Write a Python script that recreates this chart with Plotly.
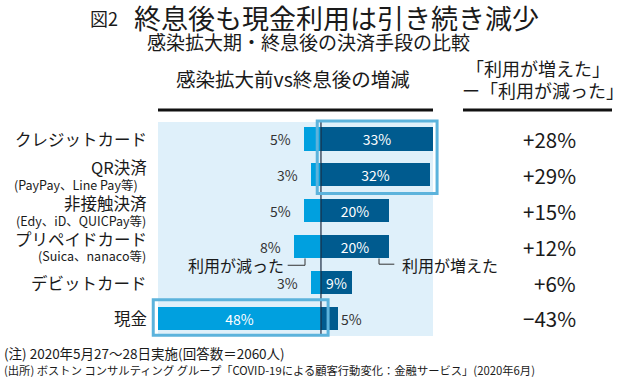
import plotly.graph_objects as go

# ---- data ----
categories = ["クレジットカード", "QR決済", "非接触決済", "プリペイドカード", "デビットカード", "現金"]
sub_labels = ["", "(PayPay、Line Pay等)", "(Edy、iD、QUICPay等)", "(Suica、nanaco等)", "", ""]
decreased = [5, 3, 5, 8, 3, 48]     # 利用が減った (%)
increased = [33, 32, 20, 20, 9, 5]  # 利用が増えた (%)

net = [i - d for i, d in zip(increased, decreased)]
net_labels = [("+" if v > 0 else "−") + f"{abs(v)}%" for v in net]

FONT = "Noto Sans CJK JP"
W, H = 620, 379
L, R, T, B = 158, 187, 122, 43
XMIN, XMAX = -48, 33
YTOP, YBOT = -0.47, 5.49

LIGHT = "#00a0df"
DARK = "#005b8f"
PANEL = "#dff0fa"
BOX = "#5cb3dc"
TXT = "#1a1a1a"


def px_x(px):
    return (px - L) / (W - L - R)


def px_y(py):
    return 1 - (py - T) / (H - T - B)


def dx(x):
    return (x - XMIN) / (XMAX - XMIN)


def dy(y):
    return 1 - (y - YTOP) / (YBOT - YTOP)


ypos = list(range(len(categories)))

fig = go.Figure()
fig.add_trace(go.Bar(
    y=ypos, x=[-v for v in decreased], orientation="h",
    marker=dict(color=LIGHT, line=dict(width=0)), width=0.65,
    text=[f"{v}%" if v >= 20 else "" for v in decreased],
    textposition="inside", insidetextanchor="middle", textangle=0, constraintext="none",
    insidetextfont=dict(family=FONT, size=14, color="white"),
    hoverinfo="skip", showlegend=False,
))
fig.add_trace(go.Bar(
    y=ypos, x=increased, orientation="h",
    marker=dict(color=DARK, line=dict(width=0)), width=0.65,
    text=[f"{v}%" for v in increased],
    textposition=["inside" if v >= 8 else "outside" for v in increased],
    insidetextanchor="middle", textangle=0, constraintext="none",
    insidetextfont=dict(family=FONT, size=14, color="white"),
    outsidetextfont=dict(family=FONT, size=14, color="#333333"),
    cliponaxis=False,
    hoverinfo="skip", showlegend=False,
))

ann = []
# decrease labels outside
for i, v in enumerate(decreased):
    if v < 20:
        ann.append(dict(x=-v, y=i, xref="x", yref="y", text=f"{v}%", showarrow=False,
                        xanchor="right", xshift=-11,
                        font=dict(family=FONT, size=14, color="#333333")))
# category labels
for i, (c, s) in enumerate(zip(categories, sub_labels)):
    if s:
        ann.append(dict(x=px_x(149), y=i - 0.21, xref="paper", yref="y", text=c, showarrow=False,
                        xanchor="right", yanchor="middle", font=dict(family=FONT, size=16.5, color=TXT)))
        sx = 140 if i == 1 else 148
        ann.append(dict(x=px_x(sx), y=i + 0.26, xref="paper", yref="y", text=s, showarrow=False,
                        xanchor="right", yanchor="middle", font=dict(family=FONT, size=12.5, color=TXT)))
    else:
        ann.append(dict(x=px_x(149), y=i, xref="paper", yref="y", text=c, showarrow=False,
                        xanchor="right", yanchor="middle", font=dict(family=FONT, size=16.5, color=TXT)))
# net values
for i, t in enumerate(net_labels):
    ann.append(dict(x=px_x(578), y=i, xref="paper", yref="y", text=t, showarrow=False,
                    xanchor="right", yanchor="middle", font=dict(family=FONT, size=20.5, color=TXT)))
# titles
ann += [
    dict(x=px_x(88), y=px_y(18), xref="paper", yref="paper", text="図2", showarrow=False,
         xanchor="left", yanchor="middle", font=dict(family=FONT, size=18, color=TXT)),
    dict(x=px_x(336), y=px_y(17), xref="paper", yref="paper", text="終息後も現金利用は引き続き減少",
         showarrow=False, xanchor="center", yanchor="middle", font=dict(family=FONT, size=27, color=TXT)),
    dict(x=px_x(308), y=px_y(41), xref="paper", yref="paper", text="感染拡大期・終息後の決済手段の比較",
         showarrow=False, xanchor="center", yanchor="middle", font=dict(family=FONT, size=19, color=TXT)),
    dict(x=px_x(293), y=px_y(78), xref="paper", yref="paper", text="感染拡大前vs終息後の増減",
         showarrow=False, xanchor="center", yanchor="middle", font=dict(family=FONT, size=19.5, color=TXT)),
    dict(x=px_x(538), y=px_y(68), xref="paper", yref="paper", text="「利用が増えた」",
         showarrow=False, xanchor="center", yanchor="middle", font=dict(family=FONT, size=18, color=TXT)),
    dict(x=px_x(543), y=px_y(90), xref="paper", yref="paper", text="ー「利用が減った」",
         showarrow=False, xanchor="center", yanchor="middle", font=dict(family=FONT, size=18, color=TXT)),
    dict(x=px_x(2), y=px_y(353), xref="paper", yref="paper", text="(注) 2020年5月27〜28日実施(回答数＝2060人)",
         showarrow=False, xanchor="left", yanchor="middle", font=dict(family=FONT, size=13.5, color=TXT)),
    dict(x=px_x(2), y=px_y(370), xref="paper", yref="paper",
         text="(出所) ボストン コンサルティング グループ「COVID-19による顧客行動変化：金融サービス」(2020年6月)",
         showarrow=False, xanchor="left", yanchor="middle", font=dict(family=FONT, size=11.3, color=TXT)),
    # callouts
    dict(x=-10.2, y=3.5, xref="x", yref="y", text="利用が減った", showarrow=False,
         xanchor="right", yanchor="middle", font=dict(family=FONT, size=16, color=TXT)),
    dict(x=23.2, y=3.5, xref="x", yref="y", text="利用が増えた", showarrow=False,
         xanchor="left", yanchor="middle", font=dict(family=FONT, size=16, color=TXT)),
]

shapes = [
    # header rules
    dict(type="line", xref="paper", yref="paper", x0=px_x(158), x1=px_x(433), y0=px_y(110), y1=px_y(110),
         line=dict(color="#111111", width=3)),
    dict(type="line", xref="paper", yref="paper", x0=px_x(463), x1=px_x(612), y0=px_y(110), y1=px_y(110),
         line=dict(color="#111111", width=3)),
    # zero line
    dict(type="line", xref="x", yref="paper", x0=0, x1=0, y0=0, y1=1,
         line=dict(color="#1b2a40", width=1.2), layer="above"),
    # highlight boxes
    dict(type="rect", xref="paper", yref="paper", x0=dx(-1.1), x1=dx(34.2), y0=dy(-0.5), y1=dy(1.52),
         line=dict(color=BOX, width=3), fillcolor="rgba(0,0,0,0)", layer="above"),
    dict(type="rect", xref="paper", yref="paper", x0=dx(-49.4), x1=dx(2.1), y0=dy(4.48), y1=dy(5.47),
         line=dict(color=BOX, width=3), fillcolor="rgba(0,0,0,0)", layer="above"),
    # callout brackets
    dict(type="path", xref="x", yref="y", path="M -9.8 3.52 L -4.7 3.52 L -4.7 3.33",
         line=dict(color="#333333", width=1)),
    dict(type="path", xref="x", yref="y", path="M 17.1 3.33 L 17.1 3.49 L 21.6 3.49",
         line=dict(color="#333333", width=1)),
]

fig.update_layout(
    width=W, height=H,
    margin=dict(l=L, r=R, t=T, b=B, pad=0),
    paper_bgcolor="white", plot_bgcolor=PANEL,
    barmode="relative", bargap=0,
    xaxis=dict(range=[XMIN, XMAX], showgrid=False, zeroline=False, showticklabels=False,
               ticks="", showline=False, fixedrange=True),
    yaxis=dict(range=[YBOT, YTOP], showgrid=False, zeroline=False, showticklabels=False,
               ticks="", showline=False, fixedrange=True),
    annotations=ann, shapes=shapes,
    font=dict(family=FONT, color=TXT),
)

fig.write_html("out.html", config={"displayModeBar": False},
               post_script="document.body.style.margin='0px';")
